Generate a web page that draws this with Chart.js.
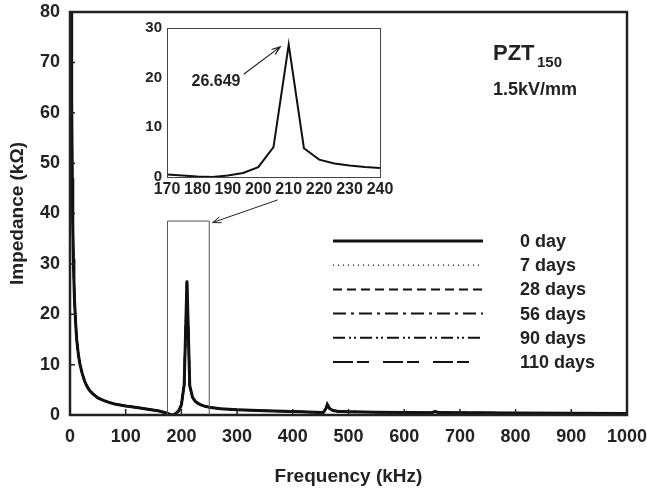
<!DOCTYPE html>
<html>
<head>
<meta charset="utf-8">
<script src="https://cdn.jsdelivr.net/npm/chart.js@4"></script>
<style>
  html, body { margin: 0; padding: 0; background: #fff; }
  #wrap { position: relative; width: 647px; height: 488px; }
  #main { position: absolute; left: 0; top: 0; }
  #inset { position: absolute; left: 130px; top: 15px; }
</style>
</head>
<body>
<div id="wrap">
  <canvas id="main" width="647" height="488"></canvas>
  <canvas id="inset" width="270" height="190"></canvas>
</div>
<script>
// frequency (kHz) and impedance (kOhm)
const freq = [2, 3, 4, 5, 6, 7, 8, 10, 12, 15, 18, 22, 26, 30, 35, 40, 50, 60, 70, 80, 90, 100,
  120, 140, 160, 170, 175, 180, 185, 190, 195, 200, 205, 210, 215, 220, 225, 230, 235, 240,
  250, 270, 300, 350, 400, 440, 455, 460, 462, 466, 472, 480, 500, 550, 600, 650, 655, 662,
  700, 800, 900, 1000];
const impedance = [95, 63, 47, 38, 31, 27, 23, 18.5, 15, 12, 10, 8.2, 6.8, 5.8, 4.9, 4.3, 3.4, 2.9, 2.5, 2.2, 2.0, 1.8,
  1.5, 1.15, 0.8, 0.5, 0.3, 0.1, 0.0, 0.3, 0.8, 2.0, 6.0, 26.649, 5.8, 3.5, 2.7, 2.3, 2.0, 1.8,
  1.55, 1.25, 1.05, 0.85, 0.7, 0.55, 0.5, 1.4, 2.1, 1.3, 0.9, 0.75, 0.65, 0.55, 0.5, 0.45, 0.7, 0.5,
  0.45, 0.4, 0.35, 0.3];
// all ageing curves coincide in the picture
const seriesLabels = ['0 day', '7 days', '28 days', '56 days', '90 days', '110 days'];
const xTicks = [0, 100, 200, 300, 400, 500, 600, 700, 800, 900, 1000];
const yTicks = [0, 10, 20, 30, 40, 50, 60, 70, 80];

// inset (zoom on the resonance)
const insetFreq = [170, 175, 180, 185, 190, 195, 200, 205, 210, 215, 220, 225, 230, 235, 240];
const insetImp = [0.5, 0.3, 0.1, 0.0, 0.3, 0.8, 2.0, 6.0, 26.649, 5.8, 3.5, 2.7, 2.3, 2.0, 1.8];
const insetXTicks = [170, 180, 190, 200, 210, 220, 230, 240];
const insetYTicks = [0, 10, 20, 30];

const ink = '#222';
const dashes = [[], [1, 4], [9, 5], [13, 5, 3, 5], [12, 4, 2, 3, 2, 4], [20, 4, 12, 14]];
const widths = [3, 1.2, 2, 2, 2, 2];

Chart.defaults.font.family = "'Liberation Sans', Arial, sans-serif";
Chart.defaults.font.weight = 'bold';
Chart.defaults.color = ink;

function arrow(ctx, x1, y1, x2, y2) {
  const a = Math.atan2(y2 - y1, x2 - x1), h = 9;
  ctx.beginPath();
  ctx.moveTo(x1, y1); ctx.lineTo(x2, y2);
  ctx.moveTo(x2 - h * Math.cos(a - 0.35), y2 - h * Math.sin(a - 0.35));
  ctx.lineTo(x2, y2);
  ctx.lineTo(x2 - h * Math.cos(a + 0.35), y2 - h * Math.sin(a + 0.35));
  ctx.stroke();
}

// fixed axis boxes so the plot area lands where the reference has it
function fixBox(size) {
  return s => {
    if (s.isHorizontal()) s.height = size; else s.width = size;
    s.paddingLeft = s.paddingRight = s.paddingTop = s.paddingBottom = 0;
  };
}

const mainDecor = {
  id: 'mainDecor',
  afterDraw(chart) {
    const { ctx, chartArea: a, scales: { x, y } } = chart;
    ctx.save();
    // frame + inward ticks
    ctx.strokeStyle = ink;
    ctx.lineWidth = 2.5;
    ctx.strokeRect(a.left, a.top, a.right - a.left, a.bottom - a.top);
    ctx.lineWidth = 1.5;
    ctx.beginPath();
    yTicks.forEach(v => { const p = y.getPixelForValue(v); ctx.moveTo(a.left, p); ctx.lineTo(a.left + 5, p); });
    xTicks.forEach(v => { const p = x.getPixelForValue(v); ctx.moveTo(p, a.bottom); ctx.lineTo(p, a.bottom - 6); });
    ctx.stroke();

    // zoom box and pointer to inset
    ctx.strokeStyle = '#555';
    ctx.lineWidth = 1;
    const bx1 = x.getPixelForValue(175), bx2 = x.getPixelForValue(250), by = y.getPixelForValue(38.5);
    ctx.beginPath();
    ctx.moveTo(bx1, a.bottom); ctx.lineTo(bx1, by); ctx.lineTo(bx2, by); ctx.lineTo(bx2, a.bottom);
    ctx.stroke();
    ctx.strokeStyle = ink;
    arrow(ctx, x.getPixelForValue(373), y.getPixelForValue(42.7), x.getPixelForValue(256), y.getPixelForValue(38.2));

    // legend
    chart.data.datasets.forEach((ds, i) => {
      const ly = 241 + i * 24.2;
      ctx.setLineDash(ds.borderDash);
      ctx.lineWidth = ds.borderWidth;
      ctx.strokeStyle = '#111';
      ctx.beginPath(); ctx.moveTo(333, ly); ctx.lineTo(483, ly); ctx.stroke();
      ctx.setLineDash([]);
      ctx.fillStyle = ink;
      ctx.font = "bold 18px 'Liberation Sans', Arial, sans-serif";
      ctx.textBaseline = 'middle';
      ctx.textAlign = 'left';
      ctx.fillText(ds.label, 520, ly + 1);
    });

    // sample label
    ctx.textBaseline = 'alphabetic';
    ctx.font = "bold 22px 'Liberation Sans', Arial, sans-serif";
    ctx.fillText('PZT', 493, 60);
    ctx.font = "bold 15px 'Liberation Sans', Arial, sans-serif";
    ctx.fillText('150', 537, 67);
    ctx.font = "bold 18px 'Liberation Sans', Arial, sans-serif";
    ctx.fillText('1.5kV/mm', 493, 95);
    ctx.restore();
  }
};

new Chart(document.getElementById('main'), {
  type: 'line',
  data: {
    datasets: seriesLabels.map((label, i) => ({
      label,
      data: freq.map((f, k) => ({ x: f, y: impedance[k] })),
      borderColor: '#111',
      borderWidth: widths[i],
      borderDash: dashes[i],
      pointRadius: 0,
      tension: 0,
      fill: false
    }))
  },
  options: {
    responsive: false,
    animation: false,
    layout: { padding: { top: 12, right: 20, left: 0, bottom: 0 } },
    plugins: { legend: { display: false }, tooltip: { enabled: false } },
    scales: {
      x: {
        type: 'linear', min: 0, max: 1000,
        afterBuildTicks: s => { s.ticks = xTicks.map(v => ({ value: v })); },
        afterFit: fixBox(73),
        grid: { display: false, drawTicks: false },
        border: { display: false },
        ticks: { padding: 11, maxRotation: 0, autoSkip: false, font: { size: 18, weight: 'bold' }, callback: v => String(v) },
        title: { display: true, text: 'Frequency (kHz)', font: { size: 19, weight: 'bold' }, padding: { top: 4, bottom: 0 } }
      },
      y: {
        type: 'linear', min: 0, max: 80,
        afterBuildTicks: s => { s.ticks = yTicks.map(v => ({ value: v })); },
        afterFit: fixBox(70),
        grid: { display: false, drawTicks: false },
        border: { display: false },
        ticks: { padding: 10, font: { size: 18, weight: 'bold' }, callback: v => String(v) },
        title: { display: true, text: 'Impedance (kΩ)', font: { size: 19, weight: 'bold' }, padding: { top: 6, bottom: 0 } }
      }
    }
  },
  plugins: [mainDecor]
});

const insetDecor = {
  id: 'insetDecor',
  afterDraw(chart) {
    const { ctx, chartArea: a, scales: { x, y } } = chart;
    ctx.save();
    ctx.strokeStyle = '#444';
    ctx.lineWidth = 1;
    ctx.strokeRect(a.left + 0.5, a.top + 0.5, a.right - a.left, a.bottom - a.top);
    ctx.strokeStyle = ink;
    ctx.lineWidth = 1.2;
    arrow(ctx, x.getPixelForValue(195.2), y.getPixelForValue(20.7), x.getPixelForValue(207.2), y.getPixelForValue(26.2));
    ctx.fillStyle = ink;
    ctx.font = "bold 16px 'Liberation Sans', Arial, sans-serif";
    ctx.textAlign = 'center';
    ctx.textBaseline = 'middle';
    ctx.fillText('26.649', x.getPixelForValue(186.1), y.getPixelForValue(19.2));
    ctx.restore();
  }
};

new Chart(document.getElementById('inset'), {
  type: 'line',
  data: {
    datasets: [{
      data: insetFreq.map((f, k) => ({ x: f, y: insetImp[k] })),
      borderColor: '#111',
      borderWidth: 2,
      pointRadius: 0,
      tension: 0
    }]
  },
  options: {
    responsive: false,
    animation: false,
    layout: { padding: { top: 13, right: 20, left: 0, bottom: 0 } },
    plugins: { legend: { display: false }, tooltip: { enabled: false } },
    scales: {
      x: {
        type: 'linear', min: 170, max: 240,
        afterBuildTicks: s => { s.ticks = insetXTicks.map(v => ({ value: v })); },
        afterFit: fixBox(28),
        grid: { display: false, drawTicks: false },
        border: { display: false },
        ticks: { padding: 3, maxRotation: 0, autoSkip: false, font: { size: 16, weight: 'bold' }, callback: v => String(v) }
      },
      y: {
        type: 'linear', min: 0, max: 30,
        afterBuildTicks: s => { s.ticks = insetYTicks.map(v => ({ value: v })); },
        afterFit: fixBox(37),
        grid: { display: false, drawTicks: false },
        border: { display: false },
        ticks: { padding: 5, font: { size: 15, weight: 'bold' }, callback: v => String(v) }
      }
    }
  },
  plugins: [insetDecor]
});
</script>
</body>
</html>
